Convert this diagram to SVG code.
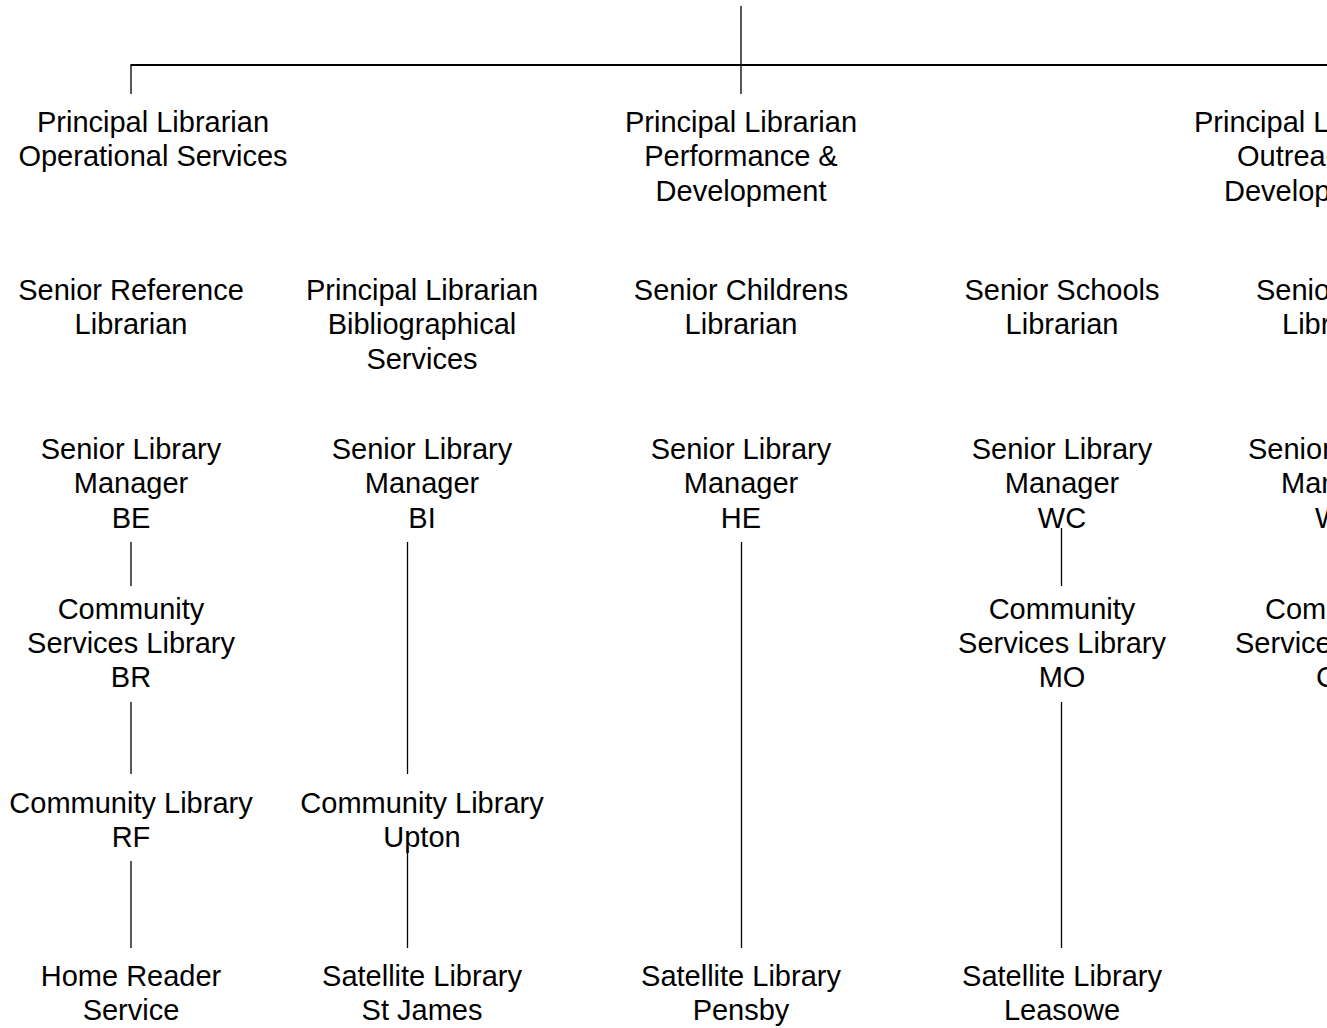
<svg xmlns="http://www.w3.org/2000/svg" width="1327" height="1028" viewBox="0 0 1327 1028">
<style>
text{font-family:"Liberation Sans",Arial,sans-serif;font-size:29px;fill:#000;text-anchor:middle}
.s{text-anchor:start}
line{stroke:#000;stroke-width:1.3}
.h{stroke-width:2}
</style>
<rect width="1327" height="1028" fill="#fff"/>
<g id="connectors">
<line x1="741" y1="6" x2="741" y2="94"/>
<line class="h" x1="130.5" y1="65" x2="1327" y2="65"/>
<line x1="131" y1="65" x2="131" y2="94"/>
<line x1="131" y1="542" x2="131" y2="586"/>
<line x1="131" y1="702" x2="131" y2="774"/>
<line x1="131" y1="861" x2="131" y2="948"/>
<line x1="407.5" y1="542" x2="407.5" y2="774"/>
<line x1="407.5" y1="846" x2="407.5" y2="948"/>
<line x1="741.5" y1="542" x2="741.5" y2="948"/>
<line x1="1061.5" y1="528" x2="1061.5" y2="586"/>
<line x1="1061.5" y1="702" x2="1061.5" y2="948"/>
</g>
<g id="n-ops"><text x="153" y="131.5">Principal Librarian</text><text x="153" y="166">Operational Services</text></g>
<g id="n-perf"><text x="741" y="131.5">Principal Librarian</text><text x="741" y="166">Performance &amp;</text><text x="741" y="200.5">Development</text></g>
<g id="n-outreach"><text class="s" x="1194" y="131.5">Principal Librarian</text><text class="s" x="1237" y="166">Outreach &amp;</text><text class="s" x="1224" y="200.5">Development</text></g>
<g id="n-ref"><text x="131" y="299.5">Senior Reference</text><text x="131" y="334">Librarian</text></g>
<g id="n-bib"><text x="422" y="299.5">Principal Librarian</text><text x="422" y="334">Bibliographical</text><text x="422" y="368.5">Services</text></g>
<g id="n-child"><text x="741" y="299.5">Senior Childrens</text><text x="741" y="334">Librarian</text></g>
<g id="n-schools"><text x="1062" y="299.5">Senior Schools</text><text x="1062" y="334">Librarian</text></g>
<g id="n-senior5"><text class="s" x="1256" y="299.5">Senior</text><text class="s" x="1282" y="334">Librarian</text></g>
<g id="n-be"><text x="131" y="458.5">Senior Library</text><text x="131" y="493">Manager</text><text x="131" y="527.5">BE</text></g>
<g id="n-bi"><text x="422" y="458.5">Senior Library</text><text x="422" y="493">Manager</text><text x="422" y="527.5">BI</text></g>
<g id="n-he"><text x="741" y="458.5">Senior Library</text><text x="741" y="493">Manager</text><text x="741" y="527.5">HE</text></g>
<g id="n-wc"><text x="1062" y="458.5">Senior Library</text><text x="1062" y="493">Manager</text><text x="1062" y="527.5">WC</text></g>
<g id="n-wk"><text class="s" x="1248" y="458.5">Senior Library</text><text class="s" x="1281" y="493">Manager</text><text class="s" x="1315" y="527.5">WK</text></g>
<g id="n-br"><text x="131" y="618.5">Community</text><text x="131" y="653">Services Library</text><text x="131" y="687">BR</text></g>
<g id="n-mo"><text x="1062" y="618.5">Community</text><text x="1062" y="653">Services Library</text><text x="1062" y="687">MO</text></g>
<g id="n-c5"><text class="s" x="1265" y="618.5">Community</text><text class="s" x="1235" y="653">Services Library</text><text class="s" x="1316" y="687">C</text></g>
<g id="n-rf"><text x="131" y="812.5">Community Library</text><text x="131" y="846.5">RF</text></g>
<g id="n-upton"><text x="422" y="812.5">Community Library</text><text x="422" y="846.5">Upton</text></g>
<g id="n-home"><text x="131" y="985.5">Home Reader</text><text x="131" y="1020">Service</text></g>
<g id="n-stjames"><text x="422" y="985.5">Satellite Library</text><text x="422" y="1020">St James</text></g>
<g id="n-pensby"><text x="741" y="985.5">Satellite Library</text><text x="741" y="1020">Pensby</text></g>
<g id="n-leasowe"><text x="1062" y="985.5">Satellite Library</text><text x="1062" y="1020">Leasowe</text></g>
</svg>
